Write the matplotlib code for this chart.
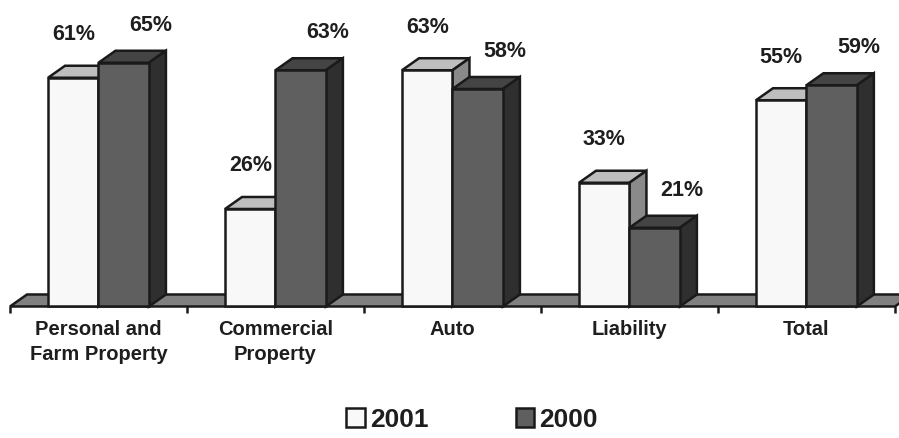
import matplotlib
matplotlib.use("Agg")
import matplotlib.pyplot as plt
from matplotlib.patches import Polygon, Patch

plt.rcParams['font.family'] = ['Liberation Sans', 'DejaVu Sans']
plt.rcParams['font.weight'] = 'bold'

categories = ["Personal and\nFarm Property", "Commercial\nProperty", "Auto", "Liability", "Total"]
series_names = ["2001", "2000"]
values_2001 = [61, 26, 63, 33, 55]
values_2000 = [65, 63, 58, 21, 59]

front_cols = ["#F8F8F8", "#5F5F5F"]
top_cols = ["#BEBEBE", "#444444"]
side_cols = ["#8A8A8A", "#2F2F2F"]
edge = "#1A1A1A"
txt = "#1E1E1E"
lw = 1.8

fig = plt.figure(figsize=(8.99, 4.38), dpi=100)
ax = fig.add_axes([0, 0, 1, 1])
ax.set_xlim(-0.5565, 4.523)
ax.set_ylim(-35.07, 81.73)
ax.axis("off")

dx = 0.096   # depth offset in x units
dy = 3.2     # depth offset in y units
w = 0.285
n = len(categories)

# floor
floor = Polygon([(-0.5, 0), (n - 0.5, 0), (n - 0.5 + dx, dy), (-0.5 + dx, dy)],
                closed=True, facecolor="#808080", edgecolor=edge, lw=lw, zorder=1)
ax.add_patch(floor)
# ticks
for i in range(n + 1):
    ax.plot([i - 0.5, i - 0.5], [0, -1.8], color=edge, lw=lw, zorder=1,
            solid_capstyle="butt")

def bar3d(x0, v, k, z):
    ax.bar(x0, v, width=w, align="edge", color=front_cols[k], edgecolor=edge,
           lw=lw, zorder=z + 0.2)
    top = Polygon([(x0, v), (x0 + w, v), (x0 + w + dx, v + dy), (x0 + dx, v + dy)],
                  closed=True, facecolor=top_cols[k], edgecolor=edge, lw=lw,
                  zorder=z, joinstyle="miter")
    side = Polygon([(x0 + w, 0), (x0 + w + dx, dy), (x0 + w + dx, v + dy), (x0 + w, v)],
                   closed=True, facecolor=side_cols[k], edgecolor=edge, lw=lw,
                   zorder=z, joinstyle="miter")
    ax.add_patch(top)
    ax.add_patch(side)

for i in range(n):
    z = 2 + i * 2
    bar3d(i - w, values_2001[i], 0, z)
    bar3d(i, values_2000[i], 1, z + 1)
    ax.text(i - w / 2, values_2001[i] + 11.5, f"{values_2001[i]}%", ha="center",
            va="center", fontsize=15.5, fontweight="bold", color=txt, zorder=20)
    ax.text(i + w / 2 + 0.153, values_2000[i] + 10, f"{values_2000[i]}%", ha="center",
            va="center", fontsize=15.5, fontweight="bold", color=txt, zorder=20)
    ax.text(i, -3.6, categories[i], ha="center", va="top", fontsize=14.5,
            fontweight="bold", color=txt, linespacing=1.38)

handles = [Patch(facecolor=front_cols[k], edgecolor=edge, lw=lw) for k in range(2)]
fig.legend(handles, series_names, loc="center", bbox_to_anchor=(0.525, 0.042),
           ncol=2, frameon=False, handlelength=0.7, handleheight=0.7,
           handletextpad=0.2, columnspacing=3.3, labelcolor=txt,
           prop={'weight': 'bold', 'size': 19})

fig.savefig("out.png", dpi=100)
